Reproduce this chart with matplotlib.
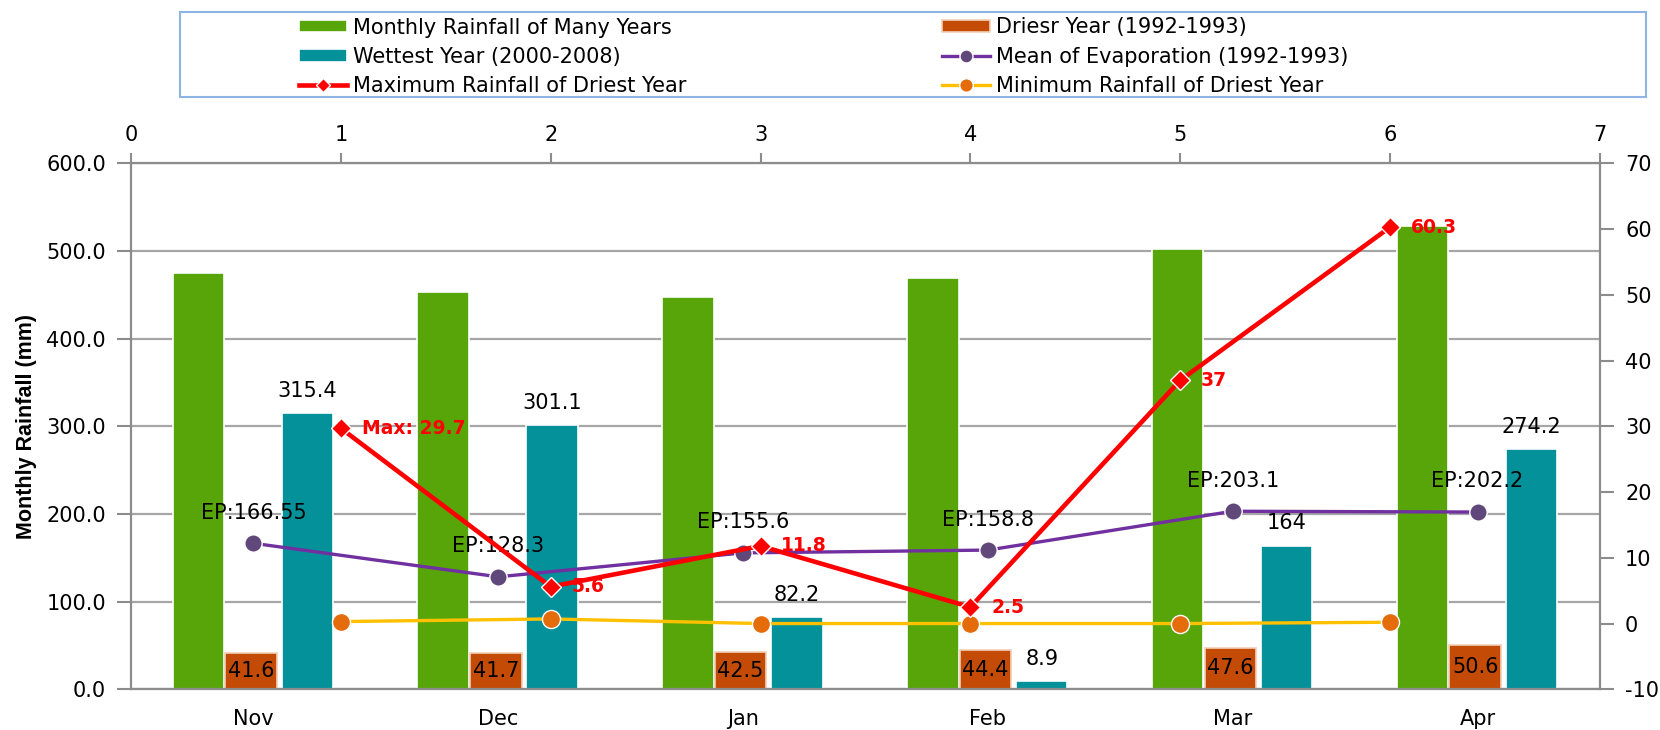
import matplotlib.pyplot as plt
import numpy as np

# data
months = ['Nov', 'Dec', 'Jan', 'Feb', 'Mar', 'Apr']
many_years = [475, 453.5, 447, 469.5, 502, 528]
driest = [41.6, 41.7, 42.5, 44.4, 47.6, 50.6]
wettest = [315.4, 301.1, 82.2, 8.9, 164, 274.2]
evap = [166.55, 128.3, 155.6, 158.8, 203.1, 202.2]
evap_txt = ['EP:166.55', 'EP:128.3', 'EP:155.6', 'EP:158.8', 'EP:203.1', 'EP:202.2']
pos2 = [1, 2, 3, 4, 5, 6]
max_rain = [29.7, 5.6, 11.8, 2.5, 37, 60.3]
max_txt = ['Max: 29.7', '5.6', '11.8', '2.5', '37', '60.3']
min_rain = [0.3, 0.7, 0.0, 0.0, 0.0, 0.2]

green = '#58A50A'
teal = '#05919A'
brown = '#C44B05'
grid_c = '#A6A6A6'
spine_c = '#8C8C8C'

plt.rcParams['font.family'] = 'DejaVu Sans'
plt.rcParams['axes.unicode_minus'] = False

fig = plt.figure(figsize=(16.6, 7.3), dpi=100)
rect = [131/1660, 1 - 689.3/730, (1600-131)/1660, (689.3-163.3)/730]
ax = fig.add_axes(rect)

x = np.arange(len(months))
w = 0.21
b1 = ax.bar(x - 0.225, many_years, w, color=green, edgecolor='white', linewidth=1.2,
            label='Monthly Rainfall of Many Years', zorder=2)
b2 = ax.bar(x - 0.01, driest, w, color=brown, edgecolor='#F2D0B8', linewidth=1.2,
            label='Driesr Year (1992-1993)', zorder=2)
b3 = ax.bar(x + 0.22, wettest, w, color=teal, edgecolor='white', linewidth=1.2,
            label='Wettest Year (2000-2008)', zorder=2)
l_ep, = ax.plot(x, evap, color='#7030A0', lw=2.4, marker='o', ms=12.5,
                markerfacecolor='#60497A', markeredgecolor='white', markeredgewidth=1,
                label='Mean of Evaporation (1992-1993)', zorder=4)

for xi, v in zip(x, driest):
    ax.text(xi - 0.01, v / 2, f'{v}', ha='center', va='center', fontsize=15, color='black', zorder=5)
for xi, v in zip(x, wettest):
    ax.annotate(f'{v:g}', (xi + 0.22, v), xytext=(0, 16), textcoords='offset points',
                ha='center', va='center', fontsize=15, zorder=5)
for xi, v, t in zip(x, evap, evap_txt):
    ax.annotate(t, (xi, v), xytext=(0, 22), textcoords='offset points',
                ha='center', va='center', fontsize=15, zorder=5)

ax.set_xlim(-0.5, 5.5)
ax.set_ylim(0, 600)
ax.set_yticks(np.arange(0, 601, 100))
ax.set_yticklabels([f'{v:.1f}' for v in np.arange(0, 601, 100)])
ax.set_xticks(x)
ax.set_xticklabels(months)
ax.tick_params(axis='x', length=0, pad=14.5, labelsize=15)
ax.tick_params(axis='y', length=10, width=1.5, color=spine_c, pad=8, labelsize=15)
ax.yaxis.grid(True, color=grid_c, lw=1.6)
ax.set_axisbelow(True)
for s in ['top', 'right']:
    ax.spines[s].set_visible(False)
for s in ['left', 'bottom']:
    ax.spines[s].set_color(spine_c)
    ax.spines[s].set_linewidth(1.6)
ax.set_ylabel('Monthly Rainfall (mm)', family='Liberation Sans', fontweight='bold',
              fontsize=15.5, labelpad=7)

# secondary axes: top x (0-7) and right y (-10..70)
ax2 = fig.add_axes(rect, label='sec')
ax2.patch.set_visible(False)
l_max, = ax2.plot(pos2, max_rain, color='#FF0000', lw=3.3, marker='D', ms=10,
                  markeredgecolor='white', markeredgewidth=1,
                  label='Maximum Rainfall of Driest Year', zorder=4)
l_min, = ax2.plot(pos2, min_rain, color='#FFC000', lw=2.4, marker='o', ms=13,
                  markerfacecolor='#E46C0A', markeredgecolor='white', markeredgewidth=1,
                  label='Minimum Rainfall of Driest Year', zorder=3)
for xi, v, t in zip(pos2, max_rain, max_txt):
    ax2.annotate(t, (xi, v), xytext=(15, 0), textcoords='offset points',
                 ha='left', va='center', fontsize=13.5, fontweight='bold', color='#FF0000')
ax2.set_xlim(0, 7)
ax2.set_ylim(-10, 70)
ax2.set_xticks(range(0, 8))
ax2.set_yticks(range(-10, 71, 10))
ax2.xaxis.tick_top()
ax2.yaxis.tick_right()
ax2.tick_params(axis='x', length=7, width=1.5, color=spine_c, pad=6, labelsize=15)
ax2.tick_params(axis='y', length=10, width=1.5, color=spine_c, pad=8, labelsize=15)
for s in ['left', 'bottom']:
    ax2.spines[s].set_visible(False)
for s in ['top', 'right']:
    ax2.spines[s].set_color(spine_c)
    ax2.spines[s].set_linewidth(1.6)

# legend with its own box
box = plt.Rectangle((180/1660, 1 - 96.7/730), (1646-180)/1660, 85/730,
                    transform=fig.transFigure, fill=False, edgecolor='#8EB4E3', lw=1.5)
fig.add_artist(box)
handles = [b1, b3, l_max, b2, l_ep, l_min]
fig.legend(handles, [h.get_label() for h in handles], ncol=2, loc='upper left',
           bbox_to_anchor=(299/1660, 1 - 17.5/730), frameon=False, fontsize=15,
           borderpad=0, borderaxespad=0, handlelength=2.3, handleheight=0.55,
           handletextpad=0.3, labelspacing=0.44, columnspacing=12.25,
           numpoints=1, markerscale=0.75)

plt.savefig('out.png', dpi=100)
